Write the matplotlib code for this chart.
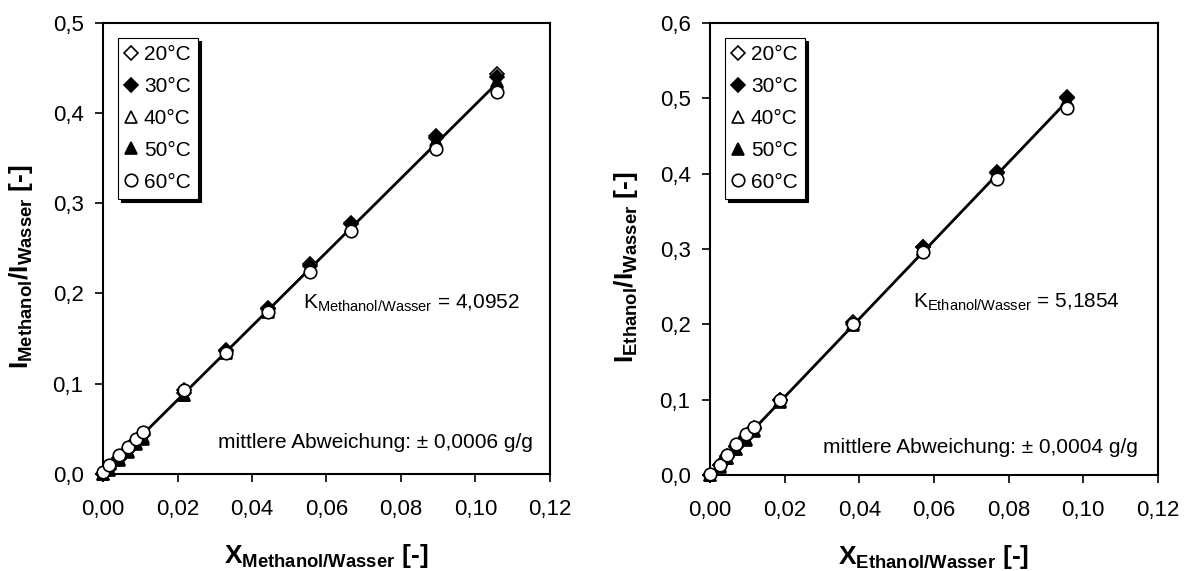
import numpy as np
import matplotlib
matplotlib.use('Agg')
import matplotlib.pyplot as plt
from matplotlib.ticker import FuncFormatter, MultipleLocator

plt.rcParams['font.family'] = ['Liberation Sans', 'DejaVu Sans']
plt.rcParams['mathtext.fontset'] = 'custom'
plt.rcParams['mathtext.rm'] = 'Liberation Sans'
plt.rcParams['mathtext.it'] = 'Liberation Sans:italic'
plt.rcParams['mathtext.bf'] = 'Liberation Sans:bold'

# Methanol / Wasser
x_meoh = [0.0, 0.0015, 0.0043, 0.0067, 0.0089, 0.0107, 0.0218, 0.0331, 0.0444, 0.0557, 0.0667, 0.0895, 0.1057]
meoh_20 = [0.000, 0.007, 0.018, 0.027, 0.037, 0.044, 0.093, 0.136, 0.183, 0.233, 0.277, 0.372, 0.443]
meoh_30 = [0.000, 0.006, 0.017, 0.026, 0.036, 0.043, 0.090, 0.137, 0.184, 0.230, 0.278, 0.375, 0.440]
meoh_40 = [0.000, 0.005, 0.016, 0.025, 0.034, 0.041, 0.088, 0.134, 0.181, 0.228, 0.274, 0.368, 0.436]
meoh_50 = [0.000, 0.004, 0.015, 0.024, 0.033, 0.039, 0.087, 0.135, 0.180, 0.227, 0.275, 0.370, 0.434]
meoh_60 = [0.002, 0.010, 0.021, 0.030, 0.039, 0.046, 0.093, 0.134, 0.179, 0.224, 0.269, 0.360, 0.423]
k_meoh = 4.0952

# Ethanol / Wasser
x_etoh = [0.0, 0.0026, 0.0046, 0.0070, 0.0097, 0.0118, 0.0187, 0.0382, 0.0570, 0.0768, 0.0956]
etoh_20 = [0.000, 0.014, 0.025, 0.038, 0.051, 0.062, 0.100, 0.203, 0.303, 0.402, 0.500]
etoh_30 = [0.000, 0.013, 0.024, 0.037, 0.050, 0.061, 0.099, 0.201, 0.302, 0.401, 0.501]
etoh_40 = [0.000, 0.012, 0.023, 0.035, 0.048, 0.060, 0.097, 0.199, 0.299, 0.398, 0.497]
etoh_50 = [0.000, 0.011, 0.022, 0.034, 0.047, 0.059, 0.098, 0.200, 0.300, 0.399, 0.495]
etoh_60 = [0.001, 0.014, 0.027, 0.041, 0.054, 0.064, 0.100, 0.200, 0.296, 0.393, 0.487]
k_etoh = 5.1854

labels = ['20°C', '30°C', '40°C', '50°C', '60°C']
styles = [('D', 'white', 7), ('D', 'black', 7), ('^', 'white', 8.5), ('^', 'black', 8.5), ('o', 'white', 9)]


def comma(dec):
    return FuncFormatter(lambda v, p: f'{v:.{dec}f}'.replace('.', ','))


def panel(ax, x, series, k, ymax, name, kpos, dpos, dev, ylab_x):
    xl = np.array([0, max(x)])
    ax.plot(xl, k * xl, color='black', lw=2, zorder=2)
    for ys, lab, (m, fc, ms) in zip(series, labels, styles):
        ax.plot(x, ys, ls='none', marker=m, mfc=fc, mec='black', mew=1.2, ms=ms,
                label=lab, zorder=3, clip_on=False)
    ax.set_xlim(0, 0.12)
    ax.set_ylim(0, ymax)
    ax.xaxis.set_major_locator(MultipleLocator(0.02))
    ax.yaxis.set_major_locator(MultipleLocator(0.1))
    ax.xaxis.set_major_formatter(comma(2))
    ax.yaxis.set_major_formatter(comma(1))
    ax.tick_params(direction='out', length=6, width=1.2, labelsize=16, color='black')
    ax.tick_params(axis='x', pad=12)
    ax.tick_params(axis='y', pad=8)
    for s in ax.spines.values():
        s.set_linewidth(1.5)
    ax.set_xlabel(r'$\mathbf{X}_{\mathbf{' + name + r'/Wasser}}$ [-]', fontsize=19,
                  fontweight='bold', labelpad=16)
    ax.set_ylabel(r'$\mathbf{I}_{\mathbf{' + name + r'}}\mathbf{/I}_{\mathbf{Wasser}}$ [-]',
                  fontsize=19, fontweight='bold')
    ax.yaxis.set_label_coords(ylab_x, 0.46)
    ax.text(kpos[0], kpos[1], r'K$_{\mathrm{' + name + r'/Wasser}}$ = ' + f'{k:.4f}'.replace('.', ','),
            transform=ax.transAxes, fontsize=15, va='center', ha='left')
    ax.text(dpos[0], dpos[1], 'mittlere Abweichung: ± ' + dev + ' g/g',
            transform=ax.transAxes, fontsize=15, va='center', ha='left')
    leg = ax.legend(loc='upper left', bbox_to_anchor=(0.033, 0.967), fontsize=15,
                    frameon=True, fancybox=False, edgecolor='black', framealpha=1,
                    shadow={'facecolor': 'black', 'edgecolor': 'black', 'alpha': 1},
                    handlelength=0.6, handletextpad=0.3, labelspacing=0.62,
                    borderpad=0.35, borderaxespad=0)
    leg.get_frame().set_linewidth(0.8)


fig = plt.figure(figsize=(11.84, 5.71), dpi=100)
ax1 = fig.add_axes([0.087, 0.170, 0.3775, 0.790])
ax2 = fig.add_axes([0.5997, 0.168, 0.3783, 0.792])

panel(ax1, x_meoh, [meoh_20, meoh_30, meoh_40, meoh_50, meoh_60], k_meoh, 0.5,
      'Methanol', (0.447, 0.379), (0.258, 0.069), '0,0006', -0.152)
panel(ax2, x_etoh, [etoh_20, etoh_30, etoh_40, etoh_50, etoh_60], k_etoh, 0.6,
      'Ethanol', (0.453, 0.383), (0.252, 0.062), '0,0004', -0.156)

fig.savefig('out.png', dpi=100)
